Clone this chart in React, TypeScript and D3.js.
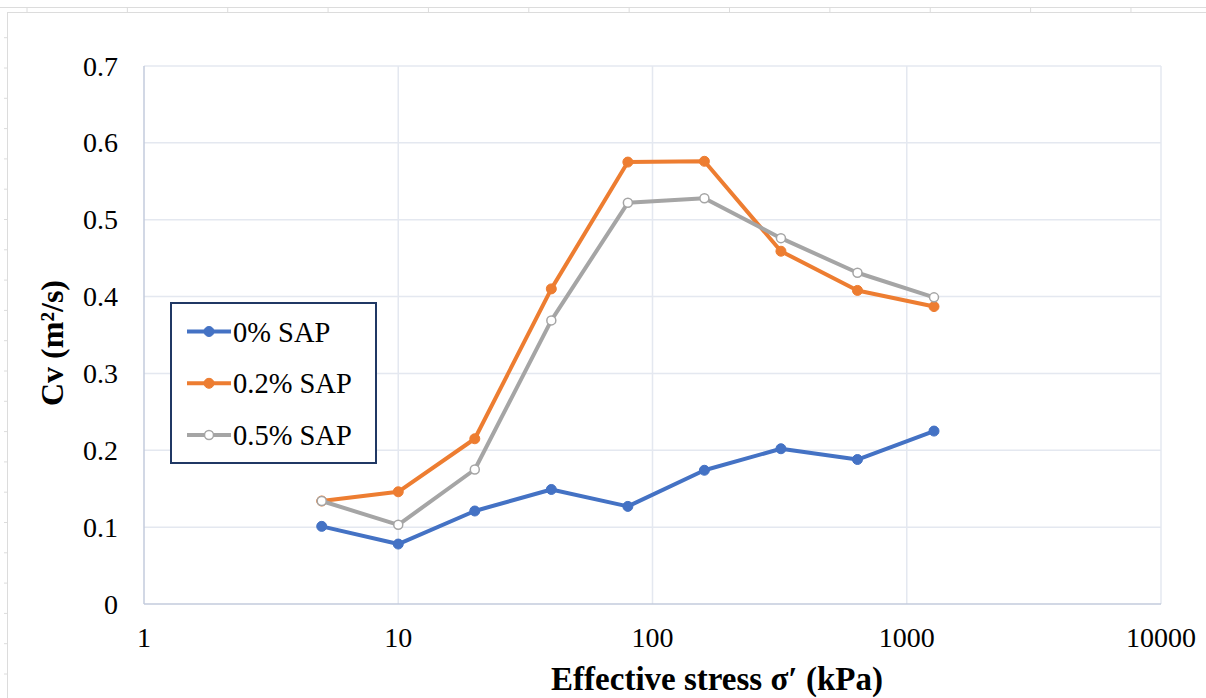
import React from "react";
import * as d3 from "d3";

// Effective stress steps (kPa) shared by all series
const stress = [5, 10, 20, 40, 80, 160, 320, 640, 1280];

// Coefficient of consolidation Cv (m²/s) per SAP content
const cv0 = [0.101, 0.078, 0.121, 0.149, 0.127, 0.174, 0.202, 0.188, 0.225];
const cv02 = [0.134, 0.146, 0.215, 0.41, 0.575, 0.576, 0.459, 0.408, 0.387];
const cv05 = [0.134, 0.103, 0.175, 0.369, 0.522, 0.528, 0.476, 0.431, 0.399];

const seriesNames = ["0% SAP", "0.2% SAP", "0.5% SAP"];
const seriesColors = ["#4472c4", "#ed7d31", "#a5a5a5"];
const hollow = [false, false, true];

const xTicks = [1, 10, 100, 1000, 10000];
const yTicks = [0, 0.1, 0.2, 0.3, 0.4, 0.5, 0.6, 0.7];

const W = 1206;
const H = 698;
const plot = { left: 144, right: 1161, top: 66, bottom: 604 };
const font = "'Liberation Serif', 'Times New Roman', serif";

export default function App() {
  const x = d3.scaleLog().domain([1, 10000]).range([plot.left, plot.right]);
  const y = d3.scaleLinear().domain([0, 0.7]).range([plot.bottom, plot.top]);
  const line = d3
    .line<[number, number]>()
    .x((d) => x(d[0]))
    .y((d) => y(d[1]));

  const series = [cv0, cv02, cv05].map((vals) =>
    stress.map((s, i) => [s, vals[i]] as [number, number])
  );

  // worksheet header strip behind the chart object
  const colLines = d3.range(12).map((i) => 27 + i * 100.36);
  const rowTicks = d3.range(22).map((i) => 37.7 + i * 30.3);

  const legend = { x: 171, y: 303, w: 205, h: 160 };
  const legendRows = [331.5, 383.3, 435];

  return (
    <div style={{ position: "absolute", left: 0, top: 0 }}>
      <svg width={W} height={H} style={{ display: "block", background: "#fff" }}>
        <g stroke="#dcdcdc" strokeWidth={1}>
          <line x1={0} x2={W} y1={7.5} y2={7.5} />
          <line x1={7} x2={W} y1={12.5} y2={12.5} />
          <line x1={7.5} x2={7.5} y1={12} y2={H} />
          {colLines.map((cx, i) => (
            <line key={i} x1={cx} x2={cx} y1={7} y2={12} />
          ))}
          {rowTicks.map((ry, i) => (
            <line key={i} x1={4} x2={7} y1={ry} y2={ry} />
          ))}
        </g>

        {/* gridlines */}
        <g stroke="#e4e8f0" strokeWidth={1.5}>
          {yTicks.slice(1).map((t) => (
            <line key={t} x1={plot.left} x2={plot.right} y1={y(t)} y2={y(t)} />
          ))}
          {xTicks.slice(1).map((t) => (
            <line key={t} x1={x(t)} x2={x(t)} y1={plot.top} y2={plot.bottom} />
          ))}
        </g>
        <g stroke="#c3cbdd" strokeWidth={1.5}>
          <line x1={plot.left} x2={plot.left} y1={plot.top} y2={plot.bottom} />
          <line x1={plot.left} x2={plot.right} y1={plot.bottom} y2={plot.bottom} />
        </g>

        {/* tick labels */}
        <g fontFamily={font} fontSize={28} fill="#000">
          {yTicks.map((t) => (
            <text key={t} x={118} y={y(t) + 9.5} textAnchor="end">
              {t === 0 ? "0" : t.toFixed(1)}
            </text>
          ))}
          {xTicks.map((t) => (
            <text key={t} x={x(t)} y={647} textAnchor="middle">
              {t}
            </text>
          ))}
        </g>

        {/* axis titles */}
        <text
          transform="translate(63,343) rotate(-90)"
          textAnchor="middle"
          fontFamily={font}
          fontSize={32}
          fontWeight="bold"
        >
          Cv (m²/s)
        </text>
        <text
          x={717}
          y={690}
          textAnchor="middle"
          fontFamily={font}
          fontSize={33}
          fontWeight="bold"
        >
          Effective stress σ′ (kPa)
        </text>

        {/* series */}
        {series.map((pts, si) => (
          <g key={si}>
            <path
              d={line(pts) || ""}
              fill="none"
              stroke={seriesColors[si]}
              strokeWidth={4}
              strokeLinejoin="round"
            />
            {pts.map((p, i) => (
              <circle
                key={i}
                cx={x(p[0])}
                cy={y(p[1])}
                r={hollow[si] ? 4.5 : 5}
                fill={hollow[si] ? "#fff" : seriesColors[si]}
                stroke={seriesColors[si]}
                strokeWidth={hollow[si] ? 1.5 : 1}
              />
            ))}
          </g>
        ))}

        {/* legend */}
        <rect
          x={legend.x}
          y={legend.y}
          width={legend.w}
          height={legend.h}
          fill="#fff"
          stroke="#203864"
          strokeWidth={2}
        />
        {seriesNames.map((name, i) => (
          <g key={name}>
            <line
              x1={187}
              x2={231}
              y1={legendRows[i]}
              y2={legendRows[i]}
              stroke={seriesColors[i]}
              strokeWidth={4}
            />
            <circle
              cx={209}
              cy={legendRows[i]}
              r={hollow[i] ? 4.5 : 5}
              fill={hollow[i] ? "#fff" : seriesColors[i]}
              stroke={seriesColors[i]}
              strokeWidth={hollow[i] ? 1.5 : 1}
            />
            <text
              x={233}
              y={legendRows[i] + 10}
              fontFamily={font}
              fontSize={28.5}
              fill="#000"
            >
              {name}
            </text>
          </g>
        ))}
      </svg>
    </div>
  );
}
